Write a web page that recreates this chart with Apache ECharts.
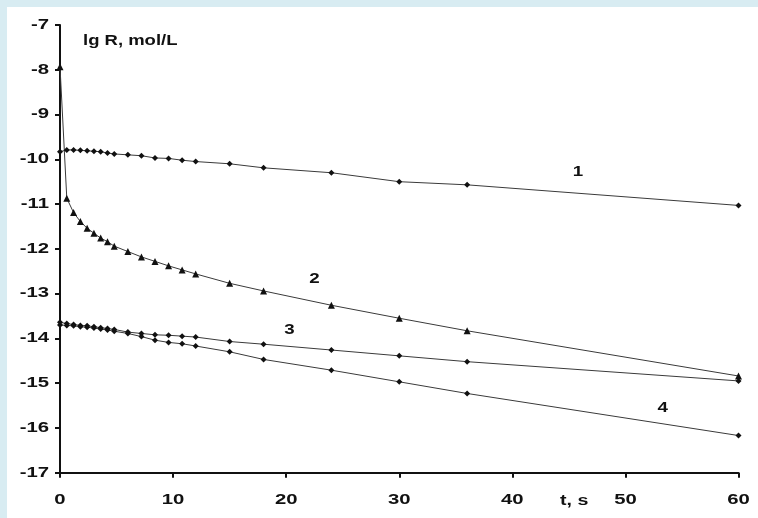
<!DOCTYPE html>
<html>
<head>
<meta charset="utf-8">
<script src="https://cdn.jsdelivr.net/npm/echarts@6/dist/echarts.min.js"></script>
<style>
  html, body { margin: 0; padding: 0; width: 758px; height: 518px; background: #d8ecf2; overflow: hidden; }
  #chart { position: absolute; left: 7px; top: 7px; width: 751px; height: 511px; background: #ffffff; }
</style>
</head>
<body>
<div id="chart"></div>
<script>
// sampling times, s
const times = [0, 0.6, 1.2, 1.8, 2.4, 3, 3.6, 4.2, 4.8, 6, 7.2, 8.4, 9.6, 10.8, 12, 15, 18, 24, 30, 36, 60];

// lg R, mol/L for curves 1-4
const curve1 = [-9.83, -9.79, -9.79, -9.80, -9.81, -9.82, -9.83, -9.86, -9.88, -9.90, -9.92, -9.97, -9.98, -10.02, -10.05, -10.10, -10.19, -10.30, -10.50, -10.57, -11.03];
const curve2 = [-7.93, -10.87, -11.19, -11.39, -11.54, -11.65, -11.76, -11.84, -11.94, -12.06, -12.18, -12.28, -12.38, -12.47, -12.56, -12.77, -12.94, -13.26, -13.55, -13.83, -14.84];
const curve3 = [-13.64, -13.67, -13.69, -13.71, -13.72, -13.74, -13.76, -13.78, -13.80, -13.86, -13.89, -13.92, -13.93, -13.95, -13.97, -14.07, -14.13, -14.26, -14.39, -14.52, -14.95];
const curve4 = [-13.70, -13.71, -13.72, -13.74, -13.75, -13.77, -13.79, -13.81, -13.84, -13.89, -13.96, -14.04, -14.09, -14.12, -14.17, -14.30, -14.47, -14.71, -14.97, -15.23, -16.17];

// curve numbers and where they sit, in (t, lg R)
const curveNames = ['1', '2', '3', '4'];
const curveNameAt = [[45.8, -10.28], [22.5, -12.67], [20.3, -13.81], [53.3, -15.55]];

// tick labels
const xTickLabels = [0, 10, 20, 30, 40, 50, 60];
const yTickLabels = [-7, -8, -9, -10, -11, -12, -13, -14, -15, -16, -17];

const chart = echarts.init(document.getElementById('chart'), null, { renderer: 'canvas' });

const font = '"Liberation Sans", Arial, sans-serif';
const pairs = v => times.map((t, i) => [t, v[i]]);

function lineSeries(values, symbol, size) {
  return {
    type: 'line',
    data: pairs(values),
    symbol: symbol,
    symbolSize: size,
    showAllSymbol: true,
    lineStyle: { color: '#3a3a3a', width: 1 },
    itemStyle: { color: '#111111', borderWidth: 0 },
    animation: false,
    z: 3
  };
}

chart.setOption({
  animation: false,
  grid: { left: 53, top: 18, right: 19.5, bottom: 45.3, containLabel: false },
  xAxis: {
    type: 'value',
    min: xTickLabels[0], max: xTickLabels[xTickLabels.length - 1], interval: 10,
    axisLine: { show: true, lineStyle: { color: '#111', width: 2 } },
    axisTick: { show: true, length: 5, lineStyle: { color: '#111', width: 2 } },
    axisLabel: { show: false },
    splitLine: { show: false }
  },
  yAxis: {
    type: 'value',
    min: yTickLabels[yTickLabels.length - 1], max: yTickLabels[0], interval: 1,
    axisLine: { show: true, onZero: false, lineStyle: { color: '#111', width: 2 } },
    axisTick: { show: true, length: 5, lineStyle: { color: '#111', width: 2 } },
    axisLabel: { show: false },
    splitLine: { show: false }
  },
  series: [
    lineSeries(curve1, 'diamond', 6),
    lineSeries(curve2, 'triangle', 7),
    lineSeries(curve3, 'diamond', 6),
    lineSeries(curve4, 'diamond', 6)
  ]
});

// wide bold lettering used for all texts
function wideText(x, y, text, size, stretch, align, vAlign) {
  return {
    type: 'text', x: x, y: y, scaleX: stretch,
    style: { text: text, font: 'bold ' + size + 'px ' + font, fill: '#111',
             align: align || 'left', verticalAlign: vAlign || 'top' }
  };
}

const graphics = [
  wideText(76, 27, 'lg R, mol/L', 14, 1.32),
  wideText(553, 487, 't, s', 14, 1.4)
];

const x0 = chart.convertToPixel({ gridIndex: 0 }, [0, yTickLabels[yTickLabels.length - 1]]);
yTickLabels.forEach(v => {
  const p = chart.convertToPixel({ gridIndex: 0 }, [0, v]);
  graphics.push(wideText(p[0] - 11, p[1], String(v), 14, 1.45, 'right', 'middle'));
});
xTickLabels.forEach(v => {
  const p = chart.convertToPixel({ gridIndex: 0 }, [v, yTickLabels[yTickLabels.length - 1]]);
  graphics.push(wideText(p[0], x0[1] + 27, String(v), 14, 1.45, 'center', 'middle'));
});
curveNames.forEach((name, i) => {
  const p = chart.convertToPixel({ gridIndex: 0 }, curveNameAt[i]);
  graphics.push(wideText(p[0], p[1], name, 15, 1.25, 'center', 'middle'));
});
chart.setOption({ graphic: graphics });
</script>
</body>
</html>
